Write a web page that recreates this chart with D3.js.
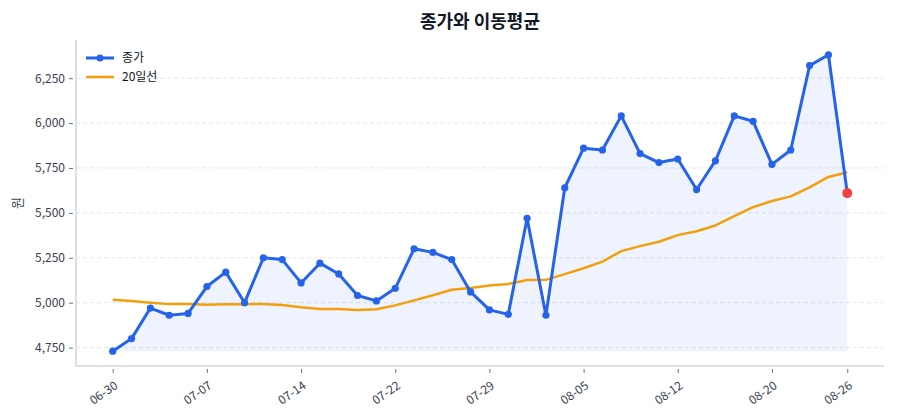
<!DOCTYPE html>
<html>
<head>
<meta charset="utf-8">
<script src="https://cdn.jsdelivr.net/npm/d3@7.9.0/dist/d3.min.js"></script>
<style>
  body { margin: 0; background: #fff; }
  svg, svg text { font-family: "Noto Sans CJK KR", "Noto Sans", sans-serif; }
</style>
</head>
<body>
<svg id="chart" width="900" height="420"></svg>
<script>
// -------------------------
// Data
// -------------------------
const dates = [
  '06-30', '07-01', '07-02', '07-03', '07-04', '07-07', '07-08', '07-09', '07-10', '07-11',
  '07-14', '07-15', '07-16', '07-18', '07-21', '07-22', '07-23', '07-24', '07-25', '07-28',
  '07-29', '07-30', '07-31', '08-01', '08-04', '08-05', '08-06', '08-07', '08-08', '08-11',
  '08-12', '08-13', '08-14', '08-18', '08-19', '08-20', '08-21', '08-22', '08-25', '08-26'
];
const closes = [
  4730, 4800, 4970, 4930, 4940, 5090, 5170, 5000, 5250, 5240,
  5110, 5220, 5160, 5040, 5010, 5080, 5300, 5280, 5240, 5060,
  4960, 4935, 5470, 4930, 5640, 5860, 5850, 6040, 5830, 5780,
  5800, 5630, 5790, 6040, 6010, 5770, 5850, 6320, 6380, 5610
];
const ma20 = [
  5017, 5009, 5000, 4992, 4993, 4989, 4991, 4991, 4993, 4987,
  4974, 4965, 4965, 4959, 4963, 4985, 5013, 5041, 5072, 5082,
  5096, 5104, 5126, 5127, 5159, 5192, 5229, 5287, 5315, 5339,
  5376, 5398, 5430, 5482, 5532, 5566, 5592, 5642, 5700, 5726
];
const tickIdx = [0, 5, 10, 15, 20, 25, 30, 35, 39];
const yTicks = [4750, 5000, 5250, 5500, 5750, 6000, 6250];

const titleText = '종가와 이동평균';
const yLabel = '원';
const legendItems = ['종가', '20일선'];

// -------------------------
// Layout / scales
// -------------------------
const W = 900, H = 420;
const margin = { top: 40, right: 16, bottom: 54, left: 76 };
const blue = '#2563eb', orange = '#f59e0b', red = '#ef4444';
const FONT = '"Noto Sans CJK KR", "Noto Sans", sans-serif';

const n = closes.length;
const xPad = (n - 1) * 0.05;
const x = d3.scaleLinear()
  .domain([-xPad, n - 1 + xPad])
  .range([margin.left, W - margin.right]);

const yMin = d3.min(closes), yMax = d3.max(closes);
const yPad = (yMax - yMin) * 0.05;
const y = d3.scaleLinear()
  .domain([yMin - yPad, yMax + yPad])
  .range([H - margin.bottom, margin.top]);

const svg = d3.select('#chart');

// grid
svg.append('g')
  .selectAll('line')
  .data(yTicks)
  .join('line')
  .attr('x1', margin.left).attr('x2', W - margin.right)
  .attr('y1', d => y(d)).attr('y2', d => y(d))
  .attr('stroke', '#e5e7eb')
  .attr('stroke-width', 1)
  .attr('stroke-dasharray', '4,3');

// area under closes
const area = d3.area()
  .x((d, i) => x(i))
  .y0(y(yMin))
  .y1(d => y(d));
svg.append('path')
  .datum(closes)
  .attr('d', area)
  .attr('fill', blue)
  .attr('fill-opacity', 0.08);

// 20-day MA
const line = d3.line().x((d, i) => x(i)).y(d => y(d));
svg.append('path')
  .datum(ma20)
  .attr('d', line)
  .attr('fill', 'none')
  .attr('stroke', orange)
  .attr('stroke-width', 2.5)
  .attr('stroke-linejoin', 'round');

// close line + markers
svg.append('path')
  .datum(closes)
  .attr('d', line)
  .attr('fill', 'none')
  .attr('stroke', blue)
  .attr('stroke-width', 3)
  .attr('stroke-linejoin', 'round');

svg.append('g')
  .selectAll('circle')
  .data(closes.slice(0, n - 1))
  .join('circle')
  .attr('cx', (d, i) => x(i))
  .attr('cy', d => y(d))
  .attr('r', 3.6)
  .attr('fill', blue);

// last point highlighted
svg.append('circle')
  .attr('cx', x(n - 1))
  .attr('cy', y(closes[n - 1]))
  .attr('r', 5)
  .attr('fill', red);

// -------------------------
// Axes
// -------------------------
const axisColor = '#d1d5db';
const textColor = '#374151';

const yAxis = svg.append('g')
  .attr('transform', `translate(${margin.left - 3},0)`)
  .call(d3.axisLeft(y).tickValues(yTicks).tickFormat(d3.format(',')).tickSize(4).tickPadding(4))
  .attr('font-family', FONT)
  .attr('font-size', 12);
yAxis.select('.domain').remove();
yAxis.selectAll('.tick line').attr('stroke', '#6b7280');
yAxis.selectAll('.tick text').attr('fill', textColor);

const xAxis = svg.append('g')
  .attr('transform', `translate(0,${H - margin.bottom + 3})`)
  .call(d3.axisBottom(x).tickValues(tickIdx).tickFormat(i => dates[i]).tickSize(4))
  .attr('font-family', FONT)
  .attr('font-size', 12);
xAxis.select('.domain').remove();
xAxis.selectAll('.tick line').attr('stroke', '#6b7280');
xAxis.selectAll('.tick text')
  .attr('fill', textColor)
  .attr('text-anchor', 'end')
  .attr('x', 0)
  .attr('y', 0)
  .attr('dy', '0.35em')
  .attr('transform', 'translate(3,15) rotate(-35)');

// spines
svg.append('line')
  .attr('x1', margin.left).attr('x2', margin.left)
  .attr('y1', margin.top).attr('y2', H - margin.bottom)
  .attr('stroke', axisColor).attr('stroke-width', 1.5);
svg.append('line')
  .attr('x1', margin.left).attr('x2', W - margin.right)
  .attr('y1', H - margin.bottom).attr('y2', H - margin.bottom)
  .attr('stroke', axisColor).attr('stroke-width', 1.5);

// y label
svg.append('text')
  .attr('transform', `translate(22,${(margin.top + H - margin.bottom) / 2}) rotate(-90)`)
  .attr('text-anchor', 'middle')
  .attr('fill', textColor)
  .style('font-size', '13px')
  .text(yLabel);

// title
svg.append('text')
  .attr('x', (margin.left + W - margin.right) / 2)
  .attr('y', 28)
  .attr('text-anchor', 'middle')
  .attr('fill', '#111827')
  .style('font-size', '18px')
  .style('font-weight', 'bold')
  .text(titleText);

// legend
const legend = svg.append('g').attr('transform', 'translate(86,58)');
legend.append('line')
  .attr('x1', 0).attr('x2', 28).attr('y1', 0).attr('y2', 0)
  .attr('stroke', blue).attr('stroke-width', 3);
legend.append('circle').attr('cx', 14).attr('cy', 0).attr('r', 3.6).attr('fill', blue);
legend.append('line')
  .attr('x1', 0).attr('x2', 28).attr('y1', 19).attr('y2', 19)
  .attr('stroke', orange).attr('stroke-width', 2.5);
legendItems.forEach((label, i) => {
  legend.append('text')
    .attr('x', 36)
    .attr('y', i * 19)
    .attr('dy', '0.35em')
    .attr('fill', '#111827')
    .style('font-size', '12px')
    .text(label);
});
</script>
</body>
</html>
